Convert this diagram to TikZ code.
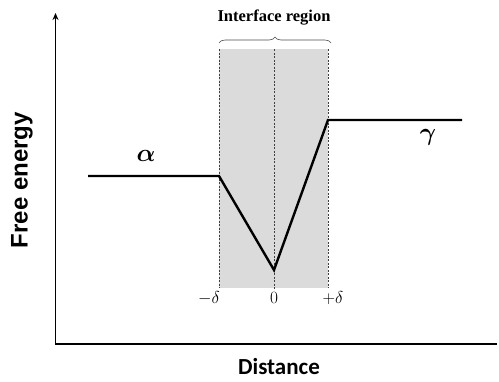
\documentclass[tikz,border=0pt]{standalone}
\usepackage{fontspec}
\usepackage{amsmath}
\usetikzlibrary{decorations.pathreplacing,arrows.meta}
\newfontfamily\arialfont{Liberation Sans}
\newfontfamily\timesfont{Liberation Serif}
\newfontfamily\calfont{Carlito}
\begin{document}
\begin{tikzpicture}[x=1pt,y=-1pt,
  axis/.style={line width=1.4pt},
  curve/.style={line width=2.4pt,line join=miter},
  guide/.style={line width=0.6pt,dash pattern=on 2pt off 1.5pt,black!75},
  ticklab/.style={font=\fontsize{17}{17}\selectfont,inner sep=0pt},
  phase/.style={font=\fontsize{25}{25}\selectfont,inner sep=0pt}]
\useasboundingbox (0,0) rectangle (499,381);
\fill[black!14] (219,49) rectangle (328,288);
\coordinate (o) at (55.5,344);
\coordinate (ytop) at (55.5,13);
\coordinate (xend) at (497,344);
\draw[axis,-{Stealth[length=7pt,width=6pt]}] (o) -- (ytop);
\draw[axis] (55,344) -- (xend);
\coordinate (gl) at (219,49);
\coordinate (gm) at (274,49);
\coordinate (gr) at (328,49);
\coordinate (bl) at (219,288);
\coordinate (bm) at (274,290);
\coordinate (br) at (328,288);
\draw[guide] (gl) -- (bl);
\draw[guide] (gm) -- (bm);
\draw[guide] (gr) -- (br);
\coordinate (p0) at (88,176);
\coordinate (p1) at (219,176);
\coordinate (p2) at (274,270);
\coordinate (p3) at (328,120);
\coordinate (p4) at (462,120);
\draw[curve] (p0) -- (p1) -- (p2) -- (p3) -- (p4);
\coordinate (brl) at (219,43);
\coordinate (brr) at (331,43);
\draw[line width=0.6pt,black!70,decorate,decoration={brace,amplitude=6pt}] (brl) -- (brr);
\node[font=\timesfont\bfseries\fontsize{16.5}{16.5}\selectfont,inner sep=0pt] (title) at (274,18) {Interface region};
\node[ticklab] (lm) at (209,298) {$-\delta$};
\node[ticklab] (l0) at (274,298) {$0$};
\node[ticklab] (lp) at (333,298) {$+\delta$};
\node[phase] (alpha) at (146,156) {$\boldsymbol{\alpha}$};
\node[phase] (gamma) at (428,137) {$\boldsymbol{\gamma}$};
\node[font=\arialfont\bfseries\fontsize{24}{24}\selectfont,rotate=90,inner sep=0pt] (ylab) at (22,180) {Free energy};
\node[font=\calfont\bfseries\fontsize{23}{23}\selectfont,inner sep=0pt] (xlab) at (279,367) {Distance};
\end{tikzpicture}
\end{document}
